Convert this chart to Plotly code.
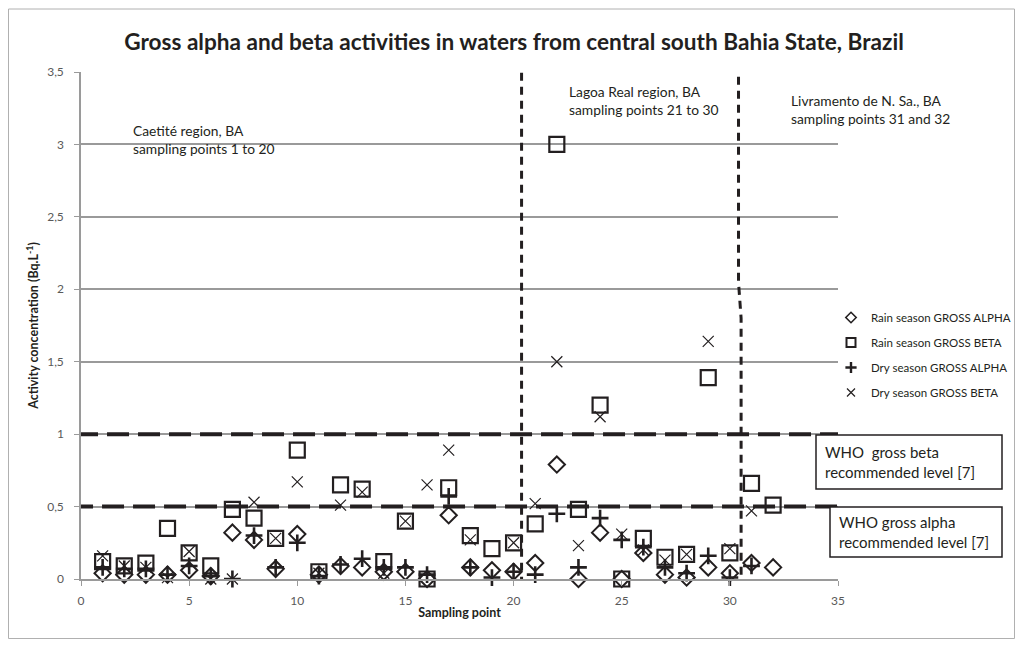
import plotly.graph_objects as go

# ---------------- data ----------------
sampling_points = list(range(1, 33))
rain_alpha = [0.04, 0.03, 0.03, 0.03, 0.06, 0.02, 0.32, 0.27, 0.07, 0.31, 0.03, 0.09, 0.08, 0.05, 0.05, 0.00,
              0.44, 0.08, 0.06, 0.05, 0.11, 0.79, 0.00, 0.32, 0.00, 0.18, 0.03, 0.01, 0.08, 0.04, 0.11, 0.08]
rain_beta = [0.12, 0.09, 0.11, 0.35, 0.18, 0.09, 0.48, 0.42, 0.28, 0.89, 0.05, 0.65, 0.62, 0.12, 0.40, 0.00,
             0.63, 0.30, 0.21, 0.25, 0.38, 3.00, 0.48, 1.20, 0.00, 0.28, 0.15, 0.17, 1.39, 0.18, 0.66, 0.51]
dry_alpha = [0.08, 0.07, 0.07, 0.03, 0.09, 0.02, 0.00, 0.30, 0.08, 0.25, 0.02, 0.10, 0.14, 0.08, 0.08, 0.03,
             0.57, 0.08, 0.01, 0.05, 0.03, 0.45, 0.08, 0.42, 0.27, 0.22, 0.08, 0.04, 0.16, 0.01, 0.09, None]
dry_beta = [0.16, 0.09, 0.08, 0.01, 0.19, 0.00, 0.00, 0.53, 0.28, 0.67, 0.04, 0.51, 0.60, 0.04, 0.40, 0.65,
            0.89, 0.27, None, 0.25, 0.52, 1.50, 0.23, 1.12, 0.31, 0.20, 0.13, 0.17, 1.64, 0.21, 0.47, None]

series_names = ["Rain season GROSS ALPHA", "Rain season GROSS BETA",
                "Dry season GROSS ALPHA", "Dry season GROSS BETA"]

y_tickvals = [0, 0.5, 1, 1.5, 2, 2.5, 3, 3.5]
y_ticktext = ["0", "0,5", "1", "1,5", "2", "2,5", "3", "3,5"]
x_tickvals = [0, 5, 10, 15, 20, 25, 30, 35]

who_alpha_level = 0.5
who_beta_level = 1.0
region_bounds = [20.37, 30.5]

title_text = "Gross alpha and beta activities in waters from central south Bahia State, Brazil"

# ---------------- figure ----------------
INK = "#231f20"
FONT = "Lato"

# the page body has an 8px margin, so the figure is drawn 8px in from the window corner
OFF = 8
W, H = 1015, 640
L, R, T, B = 81 - OFF, W - (838 - OFF), 72 - OFF, H - (579 - OFF)
pw, ph = W - L - R, H - T - B


def px2paper_x(px):  # px measured in the window
    return (px - OFF - L) / pw


def px2paper_y(py):
    return (H - B - (py - OFF)) / ph


fig = go.Figure()

symbols = ["diamond-open", "square-open", "cross-thin-open", "x-thin-open"]
sizes = [12.5, 15, 12, 11]
widths = [2, 2.2, 2.6, 1.2]
legend_sizes = [8, 9, 8, 8]
legend_widths = [1.6, 2, 2.4, 1.2]

for i, (name, vals) in enumerate(zip(series_names, [rain_alpha, rain_beta, dry_alpha, dry_beta])):
    fig.add_trace(go.Scatter(
        x=sampling_points, y=vals, mode="markers", name=name,
        legendgroup=f"g{i}", showlegend=False,
        marker=dict(color=INK, symbol=symbols[i], size=sizes[i], line=dict(width=widths[i], color=INK)),
        cliponaxis=False,
    ))
    # legend entry with the small legend-key symbol
    fig.add_trace(go.Scatter(
        x=[None], y=[None], mode="markers", name=name,
        legendgroup=f"g{i}", showlegend=True,
        marker=dict(color=INK, symbol=symbols[i], size=legend_sizes[i],
                    line=dict(width=legend_widths[i], color=INK)),
    ))

# WHO recommended level lines
fig.add_shape(type="line", xref="x", yref="y", x0=-0.23, x1=35.6, y0=who_beta_level, y1=who_beta_level,
              line=dict(color=INK, width=4, dash="22px,9px"), layer="above")
fig.add_shape(type="line", xref="x", yref="y", x0=-0.46, x1=35.3, y0=who_alpha_level, y1=who_alpha_level,
              line=dict(color=INK, width=4, dash="22px,9px"), layer="above")

# region separators
fig.add_shape(type="line", xref="x", yref="y", x0=region_bounds[0], x1=region_bounds[0], y0=-0.04, y1=3.95,
              line=dict(color=INK, width=3, dash="8px,6px"), layer="above")
b = region_bounds[1]
fig.add_shape(type="path", xref="x", yref="y",
              path=f"M {b-0.1},3.95 L {b-0.1},2.05 L {b+0.02},1.8 L {b+0.02},-0.04",
              line=dict(color=INK, width=3, dash="8px,6px"), layer="above")

# region labels
region_labels = [
    (2.3, 3.035, "Caetité region, BA<br>sampling points 1 to 20"),
    (22.45, 3.30, "Lagoa Real region, BA<br>sampling points 21 to 30"),
    (32.75, 3.24, "Livramento de N. Sa., BA<br>sampling points 31 and 32"),
]
for x0, y0, txt in region_labels:
    fig.add_annotation(x=x0, y=y0, xref="x", yref="y", text=txt, showarrow=False,
                       xanchor="left", yanchor="middle", align="left",
                       font=dict(family=FONT, size=13.8, color=INK))

# WHO boxes (window pixel positions)
who_boxes = [
    (816, 1002, 435, 489, "WHO  gross beta<br>recommended level [7]"),
    (830, 1002, 507, 557, "WHO gross alpha<br>recommended level [7]"),
]
for x0, x1, y0, y1, txt in who_boxes:
    fig.add_shape(type="rect", xref="paper", yref="paper",
                  x0=px2paper_x(x0), x1=px2paper_x(x1), y0=px2paper_y(y1), y1=px2paper_y(y0),
                  line=dict(color=INK, width=1.5), fillcolor="white", layer="above")
    fig.add_annotation(x=px2paper_x(x0 + 7), y=px2paper_y((y0 + y1) / 2), xref="paper", yref="paper",
                       text=txt, showarrow=False, xanchor="left", yanchor="middle", align="left",
                       font=dict(family=FONT, size=15, color=INK))

# outer chart border
fig.add_shape(type="rect", xref="paper", yref="paper",
              x0=px2paper_x(8.5), x1=px2paper_x(1014.5), y0=px2paper_y(638.5), y1=px2paper_y(9),
              line=dict(color="#b0b0b0", width=1), layer="below")

fig.update_layout(
    width=W, height=H,
    margin=dict(l=L, r=R, t=T, b=B, autoexpand=False),
    paper_bgcolor="white", plot_bgcolor="white",
    title=dict(text=f"<b>{title_text}</b>", x=px2paper_x(514), xref="paper", xanchor="center",
               y=1 - (42 - OFF) / H, yanchor="middle",
               font=dict(family=FONT, size=22.6, color=INK)),
    font=dict(family=FONT, color="#595959", size=12),
    showlegend=True,
    legend=dict(x=px2paper_x(831), y=px2paper_y(303), xanchor="left", yanchor="top",
                font=dict(family=FONT, size=11.5, color=INK), bgcolor="rgba(0,0,0,0)",
                tracegroupgap=6, itemwidth=30),
    xaxis=dict(range=[0, 35], tickvals=x_tickvals, ticks="outside", ticklen=5, tickcolor="#9a9a9a",
               showline=True, linecolor="#9a9a9a", linewidth=1.5, showgrid=False, zeroline=False,
               ticklabelstandoff=5,
               tickfont=dict(family=FONT, size=12, color="#595959"),
               title=dict(text="<b>Sampling point</b>", font=dict(family=FONT, size=12.5, color=INK), standoff=1)),
    yaxis=dict(range=[0, 3.5], tickvals=y_tickvals, ticktext=y_ticktext, ticks="outside", ticklen=5,
               tickcolor="#9a9a9a", showline=True, linecolor="#9a9a9a", linewidth=1.5,
               showgrid=True, gridcolor="#9a9a9a", gridwidth=1.6, zeroline=False,
               ticklabelstandoff=8,
               tickfont=dict(family=FONT, size=12, color="#595959"),
               title=dict(text="<b>Activity concentration (Bq.L<sup>-1</sup>)</b>",
                          font=dict(family=FONT, size=12.5, color=INK), standoff=6)),
)

fig.write_html("out.html")
